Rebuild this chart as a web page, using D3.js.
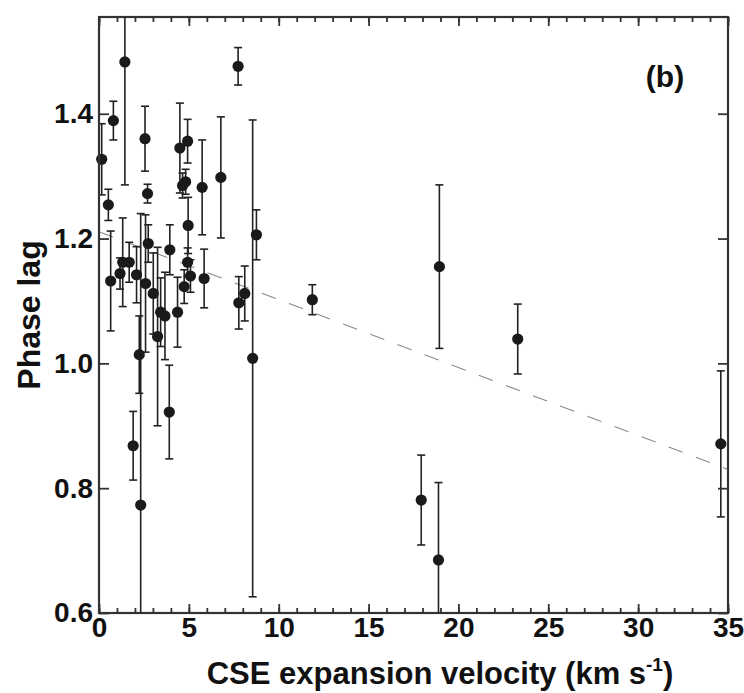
<!DOCTYPE html>
<html>
<head>
    <title>Phase lag vs CSE expansion velocity</title>
    <script src="https://d3js.org/d3.v7.min.js"></script>
    <style>
        body { margin: 0; background: #fff; }
        svg text { font-family: "Liberation Sans", Arial, sans-serif; font-weight: bold; fill: #111; }
    </style>
</head>
<body>
    <div id="chart"></div>
    <script>
        // data
        var velocity = [0.15, 0.52, 0.80, 1.44, 2.56, 2.70, 4.50, 4.93, 4.65, 4.82, 5.74, 6.78, 7.74, 8.55, 8.76,
                        0.65, 1.17, 1.32, 1.68, 2.09, 2.74, 2.59, 2.24, 2.32, 1.90, 3.02, 3.26, 3.43, 3.67, 3.94,
                        4.37, 3.91, 4.74, 4.96, 4.93, 5.09, 5.85, 7.78, 8.11, 11.87, 18.94, 23.30, 34.60, 17.93, 18.89];
        var phaseLag = [1.327, 1.254, 1.389, 1.483, 1.360, 1.272, 1.345, 1.356, 1.285, 1.291, 1.282, 1.298, 1.476, 1.008, 1.206,
                        1.132, 1.144, 1.162, 1.162, 1.142, 1.192, 1.128, 1.014, 0.773, 0.868, 1.112, 1.043, 1.082, 1.076, 1.182,
                        1.082, 0.922, 1.123, 1.221, 1.162, 1.140, 1.136, 1.097, 1.112, 1.102, 1.155, 1.039, 0.871, 0.781, 0.685];
        var lagErr = [0.057, 0.025, 0.031, 0.197, 0.052, 0.015, 0.072, 0.035, 0.020, 0.020, 0.076, 0.097, 0.030, 0.382, 0.040,
                      0.080, 0.025, 0.071, 0.032, 0.045, 0.030, 0.110, 0.062, 0.467, 0.055, 0.065, 0.143, 0.055, 0.070, 0.040,
                      0.056, 0.075, 0.027, 0.045, 0.023, 0.026, 0.047, 0.042, 0.044, 0.024, 0.131, 0.056, 0.117, 0.072, 0.124];

        // dashed fit line end points
        var fitX = [0, 35];
        var fitY = [1.211, 0.830];

        var xTicks = [0, 5, 10, 15, 20, 25, 30, 35];
        var yTicks = [0.6, 0.8, 1.0, 1.2, 1.4];

        var width = 744, height = 693;
        var plotL = 99, plotR = 728, plotT = 17, plotB = 613;
        var yMax = 1.555;

        var svg = d3.select("#chart").append("svg")
            .attr("width", width)
            .attr("height", height);

        var x = d3.scaleLinear().domain([0, 35]).range([plotL, plotR]);
        var y = d3.scaleLinear().domain([0.6, yMax]).range([plotB, plotT]);

        var points = velocity.map(function (v, i) {
            return { v: v, p: phaseLag[i], e: lagErr[i] };
        });

        svg.append("clipPath").attr("id", "plotclip")
            .append("rect")
            .attr("x", plotL).attr("y", plotT)
            .attr("width", plotR - plotL).attr("height", plotB - plotT);

        // fit line
        svg.append("line")
            .attr("x1", x(fitX[0])).attr("y1", y(fitY[0]))
            .attr("x2", x(fitX[1])).attr("y2", y(fitY[1]))
            .attr("stroke", "#8a8a8a")
            .attr("stroke-width", 1.1)
            .attr("stroke-dasharray", "15,14");

        // error bars
        var bars = svg.append("g").attr("clip-path", "url(#plotclip)")
            .attr("stroke", "#222").attr("stroke-width", 1.6);

        bars.selectAll("line.err")
            .data(points)
            .enter().append("line")
            .attr("class", "err")
            .attr("x1", function (d) { return x(d.v); })
            .attr("x2", function (d) { return x(d.v); })
            .attr("y1", function (d) { return y(d.p - d.e); })
            .attr("y2", function (d) { return y(d.p + d.e); });

        var caps = [];
        points.forEach(function (d) {
            if (d.p + d.e < yMax) caps.push({ v: d.v, y: d.p + d.e });
            if (d.p - d.e > 0.6) caps.push({ v: d.v, y: d.p - d.e });
        });
        bars.selectAll("line.cap")
            .data(caps)
            .enter().append("line")
            .attr("class", "cap")
            .attr("x1", function (d) { return x(d.v) - 4; })
            .attr("x2", function (d) { return x(d.v) + 4; })
            .attr("y1", function (d) { return y(d.y); })
            .attr("y2", function (d) { return y(d.y); });

        // points
        svg.append("g").selectAll("circle")
            .data(points)
            .enter().append("circle")
            .attr("cx", function (d) { return x(d.v); })
            .attr("cy", function (d) { return y(d.p); })
            .attr("r", 5.6)
            .attr("fill", "#1a1a1a");

        // axes, ticks pointing inward
        function styleAxis(g) {
            g.select(".domain").remove();
            g.selectAll(".tick line").attr("stroke", "#333").attr("stroke-width", 1.8);
            g.selectAll("text").attr("font-size", 28).attr("fill", "#111");
        }

        var minorX = d3.range(0, 36, 1);

        svg.append("g").attr("transform", "translate(0," + plotB + ")")
            .call(d3.axisBottom(x).tickValues(minorX).tickSize(-5).tickFormat(""))
            .call(styleAxis);
        svg.append("g").attr("transform", "translate(0," + plotT + ")")
            .call(d3.axisTop(x).tickValues(minorX).tickSize(-5).tickFormat(""))
            .call(styleAxis);

        svg.append("g").attr("transform", "translate(0," + plotB + ")")
            .call(d3.axisBottom(x).tickValues(xTicks).tickSize(-9).tickPadding(4).tickFormat(d3.format("d")))
            .call(styleAxis);
        svg.append("g").attr("transform", "translate(0," + plotT + ")")
            .call(d3.axisTop(x).tickValues(xTicks).tickSize(-9).tickFormat(""))
            .call(styleAxis);

        svg.append("g").attr("transform", "translate(" + plotL + ",0)")
            .call(d3.axisLeft(y).tickValues(yTicks).tickSize(-10).tickPadding(6).tickFormat(d3.format(".1f")))
            .call(styleAxis);
        svg.append("g").attr("transform", "translate(" + plotR + ",0)")
            .call(d3.axisRight(y).tickValues(yTicks).tickSize(-10).tickFormat(""))
            .call(styleAxis);

        // frame
        svg.append("rect")
            .attr("x", plotL).attr("y", plotT)
            .attr("width", plotR - plotL).attr("height", plotB - plotT)
            .attr("fill", "none")
            .attr("stroke", "#333")
            .attr("stroke-width", 2.2);

        // labels
        svg.append("text")
            .attr("x", 665).attr("y", 87)
            .attr("text-anchor", "middle")
            .attr("font-size", 30)
            .text("(b)");

        var xl = svg.append("text")
            .attr("x", 440).attr("y", 684)
            .attr("text-anchor", "middle")
            .attr("font-size", 31);
        xl.append("tspan").text("CSE expansion velocity (km s");
        xl.append("tspan").attr("dy", -13).attr("font-size", 19).text("-1");
        xl.append("tspan").attr("dy", 13).text(")");

        svg.append("text")
            .attr("transform", "translate(40,315) rotate(-90)")
            .attr("text-anchor", "middle")
            .attr("font-size", 32)
            .text("Phase lag");
    </script>
</body>
</html>
